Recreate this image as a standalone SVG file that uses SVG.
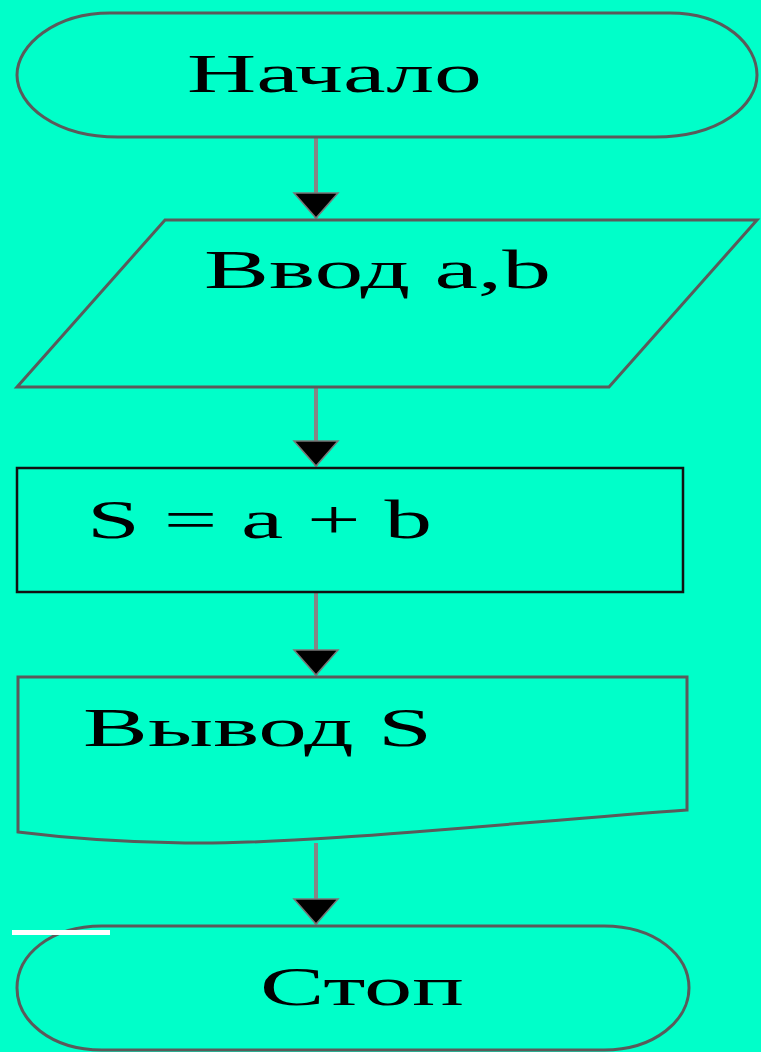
<svg xmlns="http://www.w3.org/2000/svg" width="761" height="1052" viewBox="0 0 761 1052">
<defs>
<style>
.shape{fill:#00FFC9;stroke:#5a5a5a;stroke-width:3}
.box{fill:#00FFC9;stroke:#111;stroke-width:2.5}
.conn{stroke:#858585;stroke-width:4;fill:none}
.lbl{font-family:"Liberation Serif","Times New Roman",serif;font-size:54px;fill:#000}
</style>
<marker id="arr" markerUnits="userSpaceOnUse" markerWidth="28" markerHeight="48" refX="26" refY="24" orient="auto" viewBox="0 0 28 48">
<path d="M1,2 L26,24 L1,46 Z" fill="#000" stroke="#777" stroke-width="1.5"/>
</marker>
</defs>
<rect width="761" height="1052" fill="#00FFC9"/>
<g id="connectors">
<line class="conn" x1="316" y1="138" x2="316" y2="218" marker-end="url(#arr)"/>
<line class="conn" x1="316" y1="388" x2="316" y2="466" marker-end="url(#arr)"/>
<line class="conn" x1="316" y1="593" x2="316" y2="675" marker-end="url(#arr)"/>
<line class="conn" x1="316" y1="843" x2="316" y2="924" marker-end="url(#arr)"/>
</g>
<g id="start">
<path class="shape" d="M110,13 H670 C725,13 757,45 757,75 C757,105 720,137 655,137 H118 C55,137 17,105 17,75 C17,45 55,13 110,13 Z"/>
<text class="lbl" x="187" y="92" textLength="295" lengthAdjust="spacingAndGlyphs">Начало</text>
</g>
<g id="input">
<path class="shape" d="M165,220 H757 L609,387 H17 Z"/>
<text class="lbl" x="204" y="288" textLength="347" lengthAdjust="spacingAndGlyphs">Ввод a,b</text>
</g>
<g id="process">
<rect class="box" x="17" y="468" width="666" height="124"/>
<text class="lbl" x="87" y="538" textLength="345" lengthAdjust="spacingAndGlyphs">S = a + b</text>
</g>
<g id="output">
<path class="shape" d="M18,677 H687 V810 C520,822 300,845 185,843 C100,842 50,836 18,832 Z"/>
<text class="lbl" x="83" y="746" textLength="349" lengthAdjust="spacingAndGlyphs">Вывод S</text>
</g>
<g id="stop">
<path class="shape" d="M102,926 H604 C655,926 689,955 689,988 C689,1020 655,1050 604,1050 H102 C50,1050 17,1020 17,988 C17,955 50,926 102,926 Z"/>
<text class="lbl" x="260" y="1005" textLength="204" lengthAdjust="spacingAndGlyphs">Стоп</text>
</g>
<rect x="12" y="930" width="98" height="5" fill="#fff"/>
</svg>
